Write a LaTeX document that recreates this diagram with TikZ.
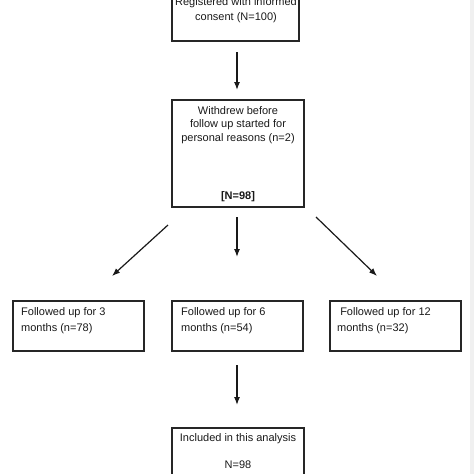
\documentclass[tikz,border=0pt]{standalone}
\usepackage{fontspec}
\setmainfont{Liberation Sans}
\usetikzlibrary{arrows.meta}
\begin{document}
\begin{tikzpicture}[x=1pt,y=-1pt,
  box/.style={draw=black!85, line width=1.1pt, rectangle, inner sep=0pt},
  txt/.style={inner sep=0pt, font=\fontsize{11}{13.3}\selectfont, text=black!90},
  arr/.style={draw=black!90, line width=1.2pt, -{Latex[length=8pt,width=6pt]}}
]
\useasboundingbox (0,0) rectangle (474,474);
\clip (0,0) rectangle (474,474);
\fill[gray!12] (470,0) rectangle (474,474);
% boxes
\node[box, minimum width=127pt, minimum height=51pt] (b1) at (235.5,15.5) {};
\node[box, minimum width=132pt, minimum height=107pt] (b2) at (238,153.5) {};
\node[box, minimum width=131pt, minimum height=50pt] (bl) at (78.5,326) {};
\node[box, minimum width=131pt, minimum height=50pt] (bm) at (237.5,326) {};
\node[box, minimum width=131pt, minimum height=50pt] (br) at (395.5,326) {};
\node[box, minimum width=132pt, minimum height=62pt] (bb) at (238,459) {};
% texts
\node[txt, align=center, font=\fontsize{11}{15}\selectfont] (t1) at (236,10.5) {Registered with informed\\consent (N=100)};
\node[txt, align=center] (t2) at (238,125) {Withdrew before\\follow up started for\\personal reasons (n=2)};
\node[txt, font=\fontsize{11}{13.3}\selectfont\bfseries] (t2b) at (238,197) {[N=98]};
\node[txt, align=left, anchor=west, font=\fontsize{11}{16}\selectfont] (tl) at (21,321) {Followed up for 3\\months (n=78)};
\node[txt, align=left, anchor=west, font=\fontsize{11}{16}\selectfont] (tm) at (181,321) {Followed up for 6\\months (n=54)};
\node[txt, align=left, anchor=west, font=\fontsize{11}{16}\selectfont] (tr) at (337,321) {\ Followed up for 12\\months (n=32)};
\node[txt] (tb1) at (238,439) {Included in this analysis};
\node[txt] (tb2) at (238,465) {N=98};
% arrow end points
\coordinate (a1s) at (237,52);  \coordinate (a1e) at (237,90);
\coordinate (ams) at (237,217); \coordinate (ame) at (237,257);
\coordinate (als) at (168,225); \coordinate (ale) at (112,276);
\coordinate (ars) at (316,217); \coordinate (are) at (377,276);
\coordinate (abs) at (237,365); \coordinate (abe) at (237,405);
\draw[arr] (a1s) -- (a1e);
\draw[arr] (ams) -- (ame);
\draw[arr] (als) -- (ale);
\draw[arr] (ars) -- (are);
\draw[arr] (abs) -- (abe);
\end{tikzpicture}
\end{document}
